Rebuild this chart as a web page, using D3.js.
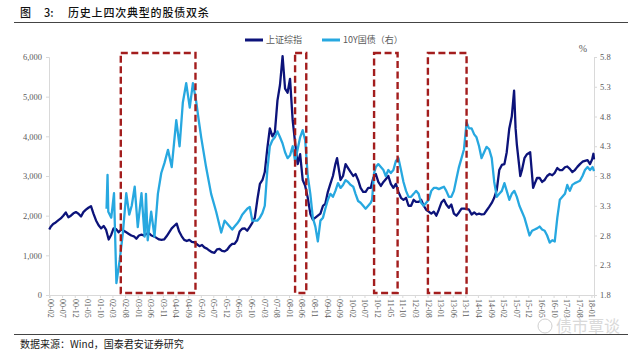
<!DOCTYPE html>
<html>
<head>
<meta charset="utf-8">
<script src="https://cdn.jsdelivr.net/npm/d3@7"></script>
<style>
  body { margin: 0; background: #fff; }
  svg { display: block; }
</style>
</head>
<body>
<svg width="640" height="354"></svg>
<script>
// 上证综指 (mid-month unless a day is given)
const sse = [
  ["2000-01-28",1650],["2000-02",1720],["2000-03",1790],["2000-04",1830],["2000-05",1880],["2000-06",1930],
  ["2000-07",2000],["2000-08",2080],["2000-09",1960],["2000-10",2000],["2000-11",2060],["2000-12",2090],
  ["2001-01",2050],["2001-02",1980],["2001-03",2090],["2001-04",2150],["2001-05",2200],["2001-06",2240],
  ["2001-07",2050],["2001-08",1880],["2001-09",1760],["2001-10",1680],["2001-11",1740],["2001-12",1640],
  ["2002-01",1400],["2002-02",1520],["2002-03",1680],["2002-04",1660],["2002-05",1580],["2002-06",1650],
  ["2002-07",1620],["2002-08",1580],["2002-09",1540],["2002-10",1500],["2002-11",1480],["2002-12",1420],
  ["2003-01",1500],["2003-02",1520],["2003-03",1500],["2003-04",1540],["2003-05",1560],["2003-06",1500],
  ["2003-07",1480],["2003-08",1440],["2003-09",1400],["2003-10",1390],["2003-11",1400],["2003-12",1480],
  ["2004-01",1580],["2004-02",1680],["2004-03",1740],["2004-04",1800],["2004-05",1600],["2004-06",1480],
  ["2004-07",1390],["2004-08",1360],["2004-09",1390],["2004-10",1340],["2004-11",1330],["2004-12",1280],
  ["2005-01",1230],["2005-02",1260],["2005-03",1200],["2005-04",1170],["2005-05",1120],["2005-06",1080],
  ["2005-07",1060],["2005-08",1150],["2005-09",1160],["2005-10",1110],["2005-11",1100],["2005-12",1140],
  ["2006-01",1230],["2006-02",1290],["2006-03",1290],["2006-04",1380],["2006-05",1600],["2006-06",1670],
  ["2006-07",1680],["2006-08",1620],["2006-09",1720],["2006-10",1820],["2006-11",1950],["2006-12",2400],
  ["2007-01",2800],["2007-02",2900],["2007-03",3100],["2007-04",3700],["2007-05",4200],["2007-06",4000],
  ["2007-07",4100],["2007-08",4900],["2007-09",5300],["2007-10-16",6020],["2007-11",5200],["2007-12",5100],
  ["2008-01-14",5450],["2008-02",4400],["2008-03",3850],["2008-04",3300],["2008-05",3550],["2008-06",2900],
  ["2008-07",2750],["2008-08",2450],["2008-09",2050],["2008-10",1900],["2008-11",1950],["2008-12",2000],
  ["2009-01",2050],["2009-02",2250],["2009-03",2300],["2009-04",2600],["2009-05",2800],["2009-06",3000],
  ["2009-07",3300],["2009-08-04",3450],["2009-09",2900],["2009-10",3000],["2009-11",3300],["2009-12",3200],
  ["2010-01",3100],["2010-02",3000],["2010-03",3050],["2010-04",2900],["2010-05",2700],["2010-06",2600],
  ["2010-07",2600],["2010-08",2700],["2010-09",2700],["2010-10",2950],["2010-11",3050],["2010-12",2850],
  ["2011-01",2750],["2011-02",2850],["2011-03",2920],["2011-04",3000],["2011-05",2800],["2011-06",2700],
  ["2011-07",2800],["2011-08",2600],["2011-09",2450],["2011-10",2400],["2011-11",2450],["2011-12",2250],
  ["2012-01",2250],["2012-02",2400],["2012-03",2350],["2012-04",2350],["2012-05",2400],["2012-06",2250],
  ["2012-07",2150],["2012-08",2100],["2012-09",2050],["2012-10",2100],["2012-11",2000],["2012-12",2150],
  ["2013-01",2330],["2013-02",2400],["2013-03",2280],["2013-04",2200],["2013-05",2280],["2013-06",2050],
  ["2013-07",2000],["2013-08",2080],["2013-09",2180],["2013-10",2180],["2013-11",2170],["2013-12",2150],
  ["2014-01",2030],["2014-02",2080],["2014-03",2030],["2014-04",2050],["2014-05",2030],["2014-06",2040],
  ["2014-07",2130],["2014-08",2220],["2014-09",2320],["2014-10",2450],["2014-11",2650],["2014-12",3150],
  ["2015-01",3280],["2015-02",3300],["2015-03",3600],["2015-04",4200],["2015-05",4500],["2015-06-12",5150],
  ["2015-06-30",4200],["2015-07",3800],["2015-08-26",3000],["2015-09",3150],["2015-10",3450],["2015-11",3550],
  ["2015-12-23",3600],["2016-01-28",2700],["2016-02",2800],["2016-03",2950],["2016-04",2950],["2016-05",2850],
  ["2016-06",2900],["2016-07",3000],["2016-08",3050],["2016-09",3020],["2016-10",3080],["2016-11",3200],
  ["2016-12",3150],["2017-01",3150],["2017-02",3220],["2017-03",3240],["2017-04",3180],["2017-05",3100],
  ["2017-06",3150],["2017-07",3230],["2017-08",3300],["2017-09",3360],["2017-10",3380],["2017-11",3400],
  ["2017-12",3300],["2018-01-10",3420],["2018-01-25",3560],["2018-02-01",3420]
];

// 10Y国债 (%)
const bond = [
  ["2001-12-20",3.25],["2002-01-01",3.82],["2002-01-10",3.20],["2002-02-15",3.10],["2002-03-20",3.51],
  ["2002-04-18",2.00],["2002-05-28",2.39],["2002-07-05",2.84],["2002-08-15",3.51],["2002-09-20",3.15],
  ["2002-10-20",3.30],["2002-11-25",3.62],["2003-01-01",2.94],["2003-02-15",3.51],["2003-03-25",2.78],
  ["2003-04-10",3.50],["2003-05-01",2.72],["2003-06-12",3.20],["2003-07-22",2.78],["2003-09-01",3.50],
  ["2003-10-12",3.85],["2003-11-20",4.02],["2004-01-01",4.24],["2004-02-15",3.95],["2004-04-10",4.74],
  ["2004-05-20",4.30],["2004-06-28",5.03],["2004-08-08",5.36],["2004-09-20",4.95],["2004-10-28",5.36],
  ["2004-12-07",5.05],["2005-01-05",4.75],["2005-02-05",4.45],["2005-04-05",3.95],["2005-06-05",3.50],
  ["2005-08-05",3.20],["2005-10-05",2.85],["2005-11",3.05],["2005-12",3.00],["2006-01",2.95],["2006-02",2.90],
  ["2006-03",2.95],["2006-04",3.00],["2006-05",3.06],["2006-06",3.15],["2006-07",3.20],["2006-08",3.25],
  ["2006-09",3.28],["2006-10",3.05],["2006-11",3.05],["2006-12",3.05],["2007-01",3.10],["2007-02",3.18],
  ["2007-03",3.30],["2007-04",3.90],["2007-05",4.30],["2007-06",4.40],["2007-07",4.45],["2007-08",4.55],
  ["2007-09",4.45],["2007-10",4.35],["2007-11",4.20],["2007-12",4.10],["2008-01",4.15],["2008-02",4.30],
  ["2008-03",4.05],["2008-04",4.25],["2008-05",4.45],["2008-06",4.57],["2008-07",4.40],["2008-08",3.80],
  ["2008-09",3.50],["2008-10",3.10],["2008-11",2.95],["2008-12",2.70],["2009-01",3.05],["2009-02",3.10],
  ["2009-03",3.25],["2009-04",3.40],["2009-05",3.50],["2009-06",3.45],["2009-07",3.55],["2009-08",3.68],
  ["2009-09",3.60],["2009-10",3.65],["2009-11",3.73],["2009-12",3.70],["2010-01",3.65],["2010-02",3.62],
  ["2010-03",3.50],["2010-04",3.38],["2010-05",3.35],["2010-06",3.30],["2010-07",3.25],["2010-08",3.30],
  ["2010-09",3.35],["2010-10-01",3.40],["2010-10-25",3.85],["2010-11",3.95],["2010-12",4.00],["2011-01",3.95],
  ["2011-02",3.90],["2011-03",3.80],["2011-04",3.90],["2011-05",3.85],["2011-06",3.90],["2011-07",4.05],
  ["2011-08",4.10],["2011-09",3.90],["2011-10",3.70],["2011-11",3.55],["2011-12",3.45],["2012-01",3.45],
  ["2012-02",3.50],["2012-03",3.55],["2012-04",3.50],["2012-05",3.35],["2012-06",3.30],["2012-07",3.35],
  ["2012-08",3.40],["2012-09",3.55],["2012-10",3.60],["2012-11",3.60],["2012-12",3.58],["2013-01",3.60],
  ["2013-02",3.62],["2013-03",3.55],["2013-04",3.45],["2013-05",3.45],["2013-06",3.55],["2013-07",3.75],
  ["2013-08",3.95],["2013-09",4.10],["2013-10",4.25],["2013-11",4.70],["2013-12",4.60],["2014-01",4.60],
  ["2014-02",4.50],["2014-03",4.45],["2014-04",4.30],["2014-05",4.10],["2014-06",4.20],["2014-07",4.29],
  ["2014-08",4.25],["2014-09",4.10],["2014-10",3.70],["2014-11",3.45],["2014-12",3.50],["2015-01",3.55],
  ["2015-02",3.68],["2015-03",3.55],["2015-04",3.40],["2015-05",3.50],["2015-06",3.55],["2015-07",3.45],
  ["2015-08",3.30],["2015-09",3.20],["2015-10",3.10],["2015-11",2.95],["2015-12",2.80],["2016-01",2.88],
  ["2016-02",2.90],["2016-03",2.92],["2016-04",2.95],["2016-05",2.90],["2016-06",2.88],["2016-07",2.80],
  ["2016-08",2.68],["2016-09",2.72],["2016-10",2.70],["2016-11",3.10],["2016-12",3.40],["2017-01",3.45],
  ["2017-02",3.50],["2017-03",3.65],["2017-04",3.55],["2017-05",3.65],["2017-06",3.68],["2017-07",3.70],
  ["2017-08",3.72],["2017-09",3.80],["2017-10",3.90],["2017-11",3.95],["2017-12",3.90],["2018-01-15",3.95],
  ["2018-02-01",3.88]
];

// 股债双杀 periods (red dashed boxes)
const boxStart = ["2002-06-10", "2008-03-15", "2010-10-25", "2012-08-05"];
const boxEnd   = ["2004-11-28", "2008-07-28", "2011-08-05", "2013-11-15"];

const leftTicks = [0, 1000, 2000, 3000, 4000, 5000, 6000];
const rightTicks = [1.8, 2.3, 2.8, 3.3, 3.8, 4.3, 4.8, 5.3, 5.8];
const seriesNames = ["上证综指", "10Y国债（右）"];

const parse = d3.timeParse("%Y-%m-%d");
const toDate = (s) => parse(s.length === 7 ? s + "-15" : s);

const navy = "#0c137a";
const sky = "#27a8e0";
const red = "#a31d1d";
const grey = "#595959";
const axisColor = "#d9d9d9";
const serif = "'Liberation Serif', 'DejaVu Serif', serif";
const cjk = "'Noto Sans CJK SC', sans-serif";

const svg = d3.select("svg");

svg.append("rect").attr("width", 640).attr("height", 354).attr("fill", "#fff");

// title + rules
let title = svg.append("text")
  .attr("y", 17)
  .attr("font-family", cjk).attr("font-size", 11).attr("font-weight", 500)
  .attr("fill", "#111");
title.append("tspan").attr("x", 20).text("图");
title.append("tspan").attr("x", 44).text("3:");
title.append("tspan").attr("x", 68).attr("letter-spacing", 0.8).text("历史上四次典型的股债双杀");

svg.append("line").attr("x1", 14).attr("x2", 628).attr("y1", 22.5).attr("y2", 22.5)
  .attr("stroke", "#444").attr("stroke-width", 1);
svg.append("line").attr("x1", 14).attr("x2", 628).attr("y1", 334.5).attr("y2", 334.5)
  .attr("stroke", "#444").attr("stroke-width", 1);

svg.append("text")
  .attr("x", 20).attr("y", 348)
  .attr("font-family", cjk).attr("font-size", 10).attr("fill", "#1a1a1a")
  .text("数据来源：Wind，国泰君安证券研究");

// scales
let x = d3.scaleTime()
  .domain([parse("2000-01-25"), parse("2018-02-01")])
  .range([49, 594]);

let yL = d3.scaleLinear().domain([0, 6000]).range([295, 57]);
let yR = d3.scaleLinear().domain([1.8, 5.8]).range([295, 57]);

// axes
let gL = svg.append("g").attr("transform", "translate(49,0)")
  .call(d3.axisLeft(yL).tickValues(leftTicks).tickSize(3).tickPadding(4).tickFormat(d3.format(",")));

let gR = svg.append("g").attr("transform", "translate(594,0)")
  .call(d3.axisRight(yR).tickValues(rightTicks).tickSize(3).tickPadding(3).tickFormat(d3.format(".1f")));

let xTicks = d3.timeMonth.range(parse("2000-02-01"), parse("2018-01-02"), 5);
let gX = svg.append("g").attr("transform", "translate(0,295)")
  .call(d3.axisBottom(x).tickValues(xTicks).tickSize(3).tickFormat(d3.timeFormat("%y-%m")));

gX.selectAll("text")
  .attr("transform", "rotate(90)")
  .attr("x", 4).attr("y", 0).attr("dy", "0.32em")
  .attr("text-anchor", "start");

[gL, gR, gX].forEach((g) => {
  g.select(".domain").attr("stroke", axisColor);
  g.selectAll(".tick line").attr("stroke", axisColor);
  g.selectAll("text").attr("fill", grey).attr("font-family", serif).attr("font-size", 8.5);
});
gX.selectAll("text").attr("font-size", 8);

svg.append("text")
  .attr("x", 583).attr("y", 52)
  .attr("text-anchor", "middle")
  .attr("font-family", serif).attr("font-size", 10).attr("fill", grey)
  .text("%");

// lines
let lineL = d3.line().x((d) => x(toDate(d[0]))).y((d) => yL(d[1]));
let lineR = d3.line().x((d) => x(toDate(d[0]))).y((d) => yR(d[1]));

svg.append("path").datum(sse)
  .attr("d", lineL)
  .attr("fill", "none").attr("stroke", navy).attr("stroke-width", 2.3)
  .attr("stroke-linejoin", "round");

svg.append("path").datum(bond)
  .attr("d", lineR)
  .attr("fill", "none").attr("stroke", sky).attr("stroke-width", 2.3)
  .attr("stroke-linejoin", "round");

// dashed boxes
svg.selectAll("rect.box")
  .data(boxStart)
  .enter()
  .append("rect")
  .attr("class", "box")
  .attr("x", (d) => x(parse(d)))
  .attr("width", (d, i) => x(parse(boxEnd[i])) - x(parse(d)))
  .attr("y", yL(6100))
  .attr("height", yL(50) - yL(6100))
  .attr("fill", "none")
  .attr("stroke", red).attr("stroke-width", 2.4)
  .attr("stroke-dasharray", "7,3.5");

// legend
let legend = svg.append("g");
let legendX = [245, 322];
let legendColors = [navy, sky];
seriesNames.forEach((name, i) => {
  legend.append("line")
    .attr("x1", legendX[i]).attr("x2", legendX[i] + 18)
    .attr("y1", 40).attr("y2", 40)
    .attr("stroke", legendColors[i]).attr("stroke-width", 3);
  legend.append("text")
    .attr("x", legendX[i] + 21).attr("y", 40).attr("dy", "0.35em")
    .attr("font-family", cjk).attr("font-size", 9).attr("fill", grey)
    .text(name);
});

// watermark
let wm = svg.append("g").attr("opacity", 0.55);
wm.append("circle").attr("cx", 545).attr("cy", 326).attr("r", 7)
  .attr("fill", "none").attr("stroke", "#aaa").attr("stroke-width", 1);
wm.append("text")
  .attr("x", 556).attr("y", 332)
  .attr("font-family", cjk).attr("font-size", 16).attr("fill", "#bbb")
  .text("债市覃谈");
</script>
</body>
</html>
